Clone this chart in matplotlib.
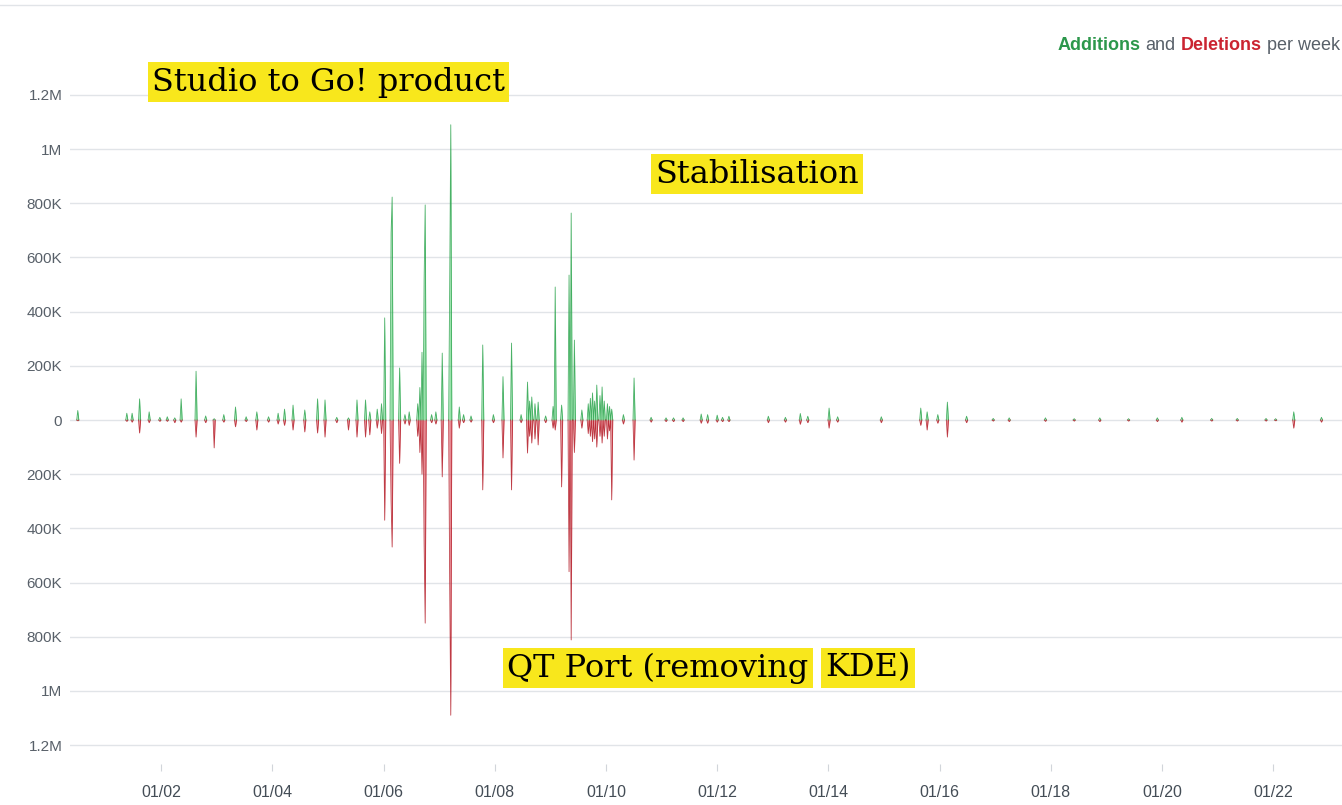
import numpy as np
import pandas as pd
import matplotlib
matplotlib.use("Agg")
import matplotlib.pyplot as plt
import matplotlib.dates as mdates
from matplotlib.ticker import FuncFormatter
from matplotlib.lines import Line2D

# weekly additions / deletions (thousands of lines)
weeks = [
    '2000-07-04', '2001-05-22', '2001-06-24', '2001-08-15', '2001-10-13', '2001-12-25',
    '2002-02-09', '2002-04-02', '2002-05-12', '2002-08-18', '2002-10-20', '2002-12-13',
    '2003-02-15', '2003-05-01', '2003-07-10', '2003-09-22', '2003-12-04', '2004-02-10',
    '2004-03-20', '2004-05-17', '2004-08-04', '2004-10-21', '2004-12-13', '2005-03-01',
    '2005-05-13', '2005-07-11', '2005-09-02', '2005-10-04', '2005-11-20', '2005-12-15',
    '2006-01-11', '2006-02-19', '2006-02-26', '2006-04-13', '2006-05-20', '2006-06-20',
    '2006-08-10', '2006-08-24', '2006-09-11', '2006-09-24', '2006-10-01', '2006-11-10',
    '2006-12-10', '2007-01-20', '2007-03-14', '2007-03-21', '2007-05-12', '2007-06-10',
    '2007-08-01', '2007-10-16', '2007-12-20', '2008-02-25', '2008-04-18', '2008-06-20',
    '2008-08-01', '2008-08-15', '2008-09-03', '2008-09-20', '2008-10-12', '2008-12-01',
    '2009-01-15', '2009-02-01', '2009-03-18', '2009-05-04', '2009-05-17', '2009-06-06',
    '2009-07-28', '2009-09-06', '2009-09-20', '2009-10-02', '2009-10-18', '2009-11-04',
    '2009-11-20', '2009-12-07', '2009-12-21', '2010-01-08', '2010-01-24', '2010-02-10',
    '2010-04-23', '2010-07-04', '2010-10-24', '2011-01-31', '2011-03-17', '2011-05-22',
    '2011-09-17', '2011-10-27', '2012-01-01', '2012-02-03', '2012-03-20', '2012-12-01',
    '2013-03-24', '2013-06-30', '2013-08-21', '2014-01-06', '2014-02-27', '2014-12-13',
    '2015-09-02', '2015-10-11', '2015-12-22', '2016-02-20', '2016-06-24', '2016-12-18',
    '2017-04-02', '2017-11-24', '2018-06-03', '2018-11-20', '2019-05-23', '2019-11-29',
    '2020-05-13', '2020-11-19', '2021-05-09', '2021-11-15', '2022-01-14', '2022-05-18',
    '2022-11-11',
]
additions = [
    35, 25, 25, 78, 30, 10,
    12, 8, 78, 180, 15, 5,
    20, 48, 12, 30, 12, 25,
    40, 55, 37, 78, 74, 10,
    8, 74, 74, 30, 40, 60,
    377, 690, 823, 192, 20, 30,
    60, 120, 250, 517, 794, 20,
    30, 247, 500, 1090, 48, 20,
    15, 277, 20, 160, 284, 20,
    140, 70, 85, 60, 66, 15,
    50, 491, 55, 535, 764, 295,
    37, 60, 80, 100, 70, 129,
    90, 122, 70, 60, 50, 40,
    20, 155, 10, 8, 8, 8,
    22, 20, 18, 10, 14, 14,
    10, 24, 14, 44, 12, 12,
    44, 30, 20, 66, 14, 6,
    8, 8, 5, 8, 5, 8,
    10, 6, 6, 6, 5, 30,
    10,
]
deletions = [
    3, 5, 8, 48, 10, 5,
    5, 10, 8, 63, 10, 103,
    8, 25, 6, 37, 8, 15,
    20, 37, 44, 48, 63, 10,
    37, 63, 63, 55, 30, 50,
    370, 300, 469, 160, 15, 20,
    60, 120, 200, 455, 750, 10,
    15, 210, 600, 1090, 30, 10,
    8, 258, 10, 140, 258, 10,
    122, 60, 85, 70, 92, 10,
    30, 37, 247, 560, 812, 120,
    30, 50, 60, 80, 70, 100,
    60, 85, 60, 70, 40, 295,
    15, 148, 8, 6, 6, 6,
    12, 12, 8, 6, 6, 10,
    8, 16, 10, 30, 8, 10,
    20, 37, 12, 63, 10, 4,
    6, 5, 4, 6, 4, 6,
    8, 4, 4, 4, 3, 30,
    8,
]

year_ticks = pd.date_range('2002-01-01', '2022-01-01', freq='2YS')
y_ticks = [-1200, -1000, -800, -600, -400, -200, 0, 200, 400, 600, 800, 1000, 1200]

# put values onto a weekly grid
grid = pd.date_range('2000-05-07', '2023-04-02', freq='W')
adds = pd.Series(0.0, index=grid)
dels = pd.Series(0.0, index=grid)
for d, a, r in zip(pd.to_datetime(weeks), additions, deletions):
    i = grid.get_indexer([d], method='nearest')[0]
    adds.iloc[i] += a
    dels.iloc[i] += r


def outline(v):
    # hide outline where the series sits flat on zero
    v = np.asarray(v, dtype=float)
    nz = v != 0
    keep = nz | np.roll(nz, 1) | np.roll(nz, -1)
    return np.where(keep, v, np.nan)


fig = plt.figure(figsize=(13.42, 8.05), dpi=100)
ax = fig.add_axes([70 / 1342, 41 / 805, 1272 / 1342, 688 / 805])

ax.fill_between(grid, adds.values, 0, color='#34c759', alpha=0.5, lw=0)
ax.plot(grid, outline(adds.values), color='#2ea44f', lw=0.6, alpha=0.85)
ax.fill_between(grid, -dels.values, 0, color='#d73a49', alpha=0.6, lw=0)
ax.plot(grid, outline(-dels.values), color='#b31d28', lw=0.6, alpha=0.85)

ax.set_ylim(-1270, 1270)
ax.set_xlim(pd.Timestamp('2000-05-12'), pd.Timestamp('2023-03-28'))
ax.set_yticks(y_ticks)


def fmt(v, pos):
    v = abs(v)
    if v >= 1000:
        s = '%g' % (v / 1000)
        return s + 'M'
    return '0' if v == 0 else '%dK' % v


ax.yaxis.set_major_formatter(FuncFormatter(fmt))
ax.set_xticks(year_ticks)
ax.xaxis.set_major_formatter(mdates.DateFormatter('%m/%y'))

ax.grid(axis='y', color='#e1e4e8', lw=1)
ax.set_axisbelow(True)
for s in ax.spines.values():
    s.set_visible(False)
ax.tick_params(axis='y', length=0, pad=5.5, labelsize=11, labelcolor='#586069')
ax.tick_params(axis='x', length=5, color='#d1d5da', pad=10, labelsize=11.5, labelcolor='#444d56')
for t in ax.get_yticklabels():
    t.set_fontfamily('Liberation Sans')
for t in ax.get_xticklabels():
    t.set_fontfamily('Liberation Sans')

fig.add_artist(Line2D([0, 1], [1 - 5 / 805] * 2, color='#e1e4e8', lw=1))

# legend line: "Additions and Deletions per week"
fig.canvas.draw()
renderer = fig.canvas.get_renderer()
pieces = [('per week', '#586069', 'normal'), ('Deletions', '#cb2431', 'bold'),
          ('and', '#586069', 'normal'), ('Additions', '#2c974b', 'bold')]
right = 1340
for txt, col, w in pieces:
    t = fig.text(right / 1342, 1 - 45 / 805, txt, ha='right', va='center', color=col,
                 fontweight=w, fontsize=13, family='Liberation Sans')
    bb = t.get_window_extent(renderer)
    right = bb.x0 - 5

# annotations
yellow = '#f8e71c'
notes = [('Studio to Go! product', 152, 82), ('Stabilisation', 655, 174),
         ('QT Port (removing', 507, 668), ('KDE)', 825, 668)]
for txt, px, py in notes:
    fig.text(px / 1342, 1 - py / 805, txt, ha='left', va='center', fontsize=23,
             family='DejaVu Serif', color='black',
             bbox=dict(boxstyle='square,pad=0.14', fc=yellow, ec='none'))

fig.savefig('out.png', dpi=100)
